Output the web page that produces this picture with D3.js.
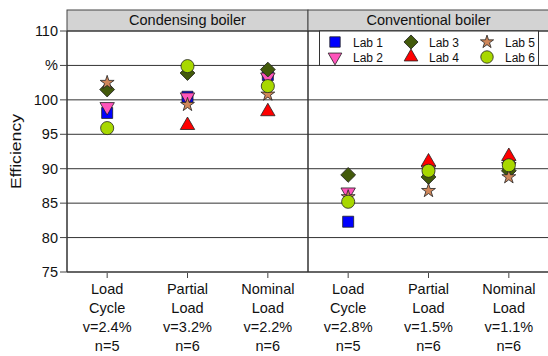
<!DOCTYPE html>
<html>
<head>
<meta charset="utf-8">
<script src="https://cdn.jsdelivr.net/npm/d3@7"></script>
<style>
  body { margin: 0; background: #fff; }
  text { font-family: "Liberation Sans", Arial, sans-serif; fill: #111; }
</style>
</head>
<body>
<div id="chart"></div>
<script>
// Panels and x categories
const panels = ['Condensing boiler', 'Conventional boiler'];
const loads = ['LC', 'PL', 'NL'];
const xLabels = [
  [['Load', 'Cycle', 'v=2.4%', 'n=5'], ['Partial', 'Load', 'v=3.2%', 'n=6'], ['Nominal', 'Load', 'v=2.2%', 'n=6']],
  [['Load', 'Cycle', 'v=2.8%', 'n=5'], ['Partial', 'Load', 'v=1.5%', 'n=6'], ['Nominal', 'Load', 'v=1.1%', 'n=6']]
];
const yTicks = [75, 80, 85, 90, 95, 100, 105, 110];
const yTickLabels = ['75', '80', '85', '90', '95', '100', '%', '110'];

const labs = ['Lab 1', 'Lab 2', 'Lab 3', 'Lab 4', 'Lab 5', 'Lab 6'];

// efficiency values per lab: [LC, PL, NL]
const condensing = [
  [98.1, 100.45, 103.6],
  [99.0, 100.4, 103.3],
  [101.5, 103.9, 104.4],
  [null, 96.3, 98.3],
  [102.5, 99.3, 100.8],
  [95.9, 104.9, 102.0]
];
const conventional = [
  [82.3, 89.7, 90.4],
  [86.6, 89.8, 90.3],
  [89.1, 88.8, 89.7],
  [null, 91.0, 91.8],
  [85.9, 86.8, 88.8],
  [85.2, 89.7, 90.5]
];

const width = 548, height = 356;
const margin = { top: 31, right: -1, bottom: 84, left: 67 };
const stripH = 21;

const svg = d3.select('#chart').append('svg')
  .attr('width', width)
  .attr('height', height);

// x: panels, then loads inside each panel
const xPanel = d3.scaleBand()
  .domain(panels)
  .range([margin.left, width - margin.right]);

const y = d3.scaleLinear()
  .domain([75, 110])
  .range([height - margin.bottom, margin.top]);

const symbols = [
  { type: d3.symbolSquare, size: 121, rotate: 0, fill: '#0000ff' },
  { type: d3.symbolTriangle, size: 90, rotate: 180, fill: '#ff55bb' },
  { type: d3.symbolSquare, size: 110, rotate: 45, fill: '#435a0b' },
  { type: d3.symbolTriangle, size: 90, rotate: 0, fill: '#ff0000' },
  { type: d3.symbolStar, size: 60, rotate: 0, fill: '#d0875a' },
  { type: d3.symbolCircle, size: 135, rotate: 0, fill: '#a8d800' }
];

const data = [condensing, conventional];

panels.forEach((p, pi) => {
  const x0 = xPanel(p);
  const x = d3.scaleBand()
    .domain(loads)
    .range([x0, x0 + xPanel.bandwidth()]);

  const g = svg.append('g');

  // strip
  g.append('rect')
    .attr('x', x0)
    .attr('y', margin.top - stripH)
    .attr('width', xPanel.bandwidth())
    .attr('height', stripH)
    .attr('fill', '#d3d3d3')
    .attr('stroke', '#444');
  g.append('text')
    .attr('x', x0 + xPanel.bandwidth() / 2)
    .attr('y', margin.top - 6)
    .attr('text-anchor', 'middle')
    .style('font-size', '14.5px')
    .text(p);

  // horizontal grid
  g.selectAll('.grid')
    .data(yTicks)
    .enter().append('line')
    .attr('x1', x0)
    .attr('x2', x0 + xPanel.bandwidth())
    .attr('y1', d => y(d))
    .attr('y2', d => y(d))
    .attr('stroke', d => d === 75 ? '#666' : '#333')
    .attr('stroke-width', d => d === 75 ? 2 : 1);

  // panel left border
  g.append('line')
    .attr('x1', x0).attr('x2', x0)
    .attr('y1', y(110)).attr('y2', y(75))
    .attr('stroke', '#333')
    .attr('stroke-width', 1.5);

  // x axis ticks + labels
  const xa = g.append('g')
    .attr('transform', `translate(0, ${y(75)})`);
  xa.selectAll('line')
    .data(loads)
    .enter().append('line')
    .attr('x1', d => x(d) + x.bandwidth() / 2)
    .attr('x2', d => x(d) + x.bandwidth() / 2)
    .attr('y1', 1)
    .attr('y2', 6)
    .attr('stroke', '#444');
  xa.selectAll('text')
    .data(loads)
    .enter().append('text')
    .attr('text-anchor', 'middle')
    .style('font-size', '14.5px')
    .each(function (d, i) {
      d3.select(this).selectAll('tspan')
        .data(xLabels[pi][i])
        .enter().append('tspan')
        .attr('x', x(d) + x.bandwidth() / 2)
        .attr('y', (t, k) => 21.5 + k * 19)
        .text(t => t);
    });

  // points, lab by lab
  data[pi].forEach((vals, li) => {
    const s = symbols[li];
    const sym = d3.symbol().type(s.type).size(s.size);
    g.selectAll('.pt' + li)
      .data(vals.map((v, i) => ({ load: loads[i], v })).filter(d => d.v !== null))
      .enter().append('path')
      .attr('d', sym)
      .attr('transform', d => `translate(${x(d.load) + x.bandwidth() / 2},${y(d.v)}) rotate(${s.rotate})`)
      .attr('fill', s.fill)
      .attr('stroke', '#222')
      .attr('stroke-width', 0.8);
  });
});

// y axis ticks + labels
const ya = svg.append('g');
ya.selectAll('line')
  .data(yTicks)
  .enter().append('line')
  .attr('x1', margin.left - 7)
  .attr('x2', margin.left)
  .attr('y1', d => y(d))
  .attr('y2', d => y(d))
  .attr('stroke', '#444');
ya.selectAll('text')
  .data(yTicks)
  .enter().append('text')
  .attr('x', margin.left - 9)
  .attr('y', d => y(d) + 5)
  .attr('text-anchor', 'end')
  .style('font-size', '14.5px')
  .text((d, i) => yTickLabels[i]);

svg.append('text')
  .attr('transform', `translate(21, ${(y(75) + y(110)) / 2}) rotate(-90)`)
  .attr('text-anchor', 'middle')
  .attr('textLength', 75)
  .attr('lengthAdjust', 'spacingAndGlyphs')
  .style('font-size', '14px')
  .text('Efficiency');

// legend in right panel
const lg = svg.append('g');
lg.append('rect')
  .attr('x', 319.5)
  .attr('y', margin.top)
  .attr('width', 219)
  .attr('height', y(105) - margin.top)
  .attr('fill', '#fff')
  .attr('stroke', '#333');
labs.forEach((lab, li) => {
  const col = Math.floor(li / 2), row = li % 2;
  const lx = 335 + col * 76, ly = 42 + row * 15;
  const s = symbols[li];
  lg.append('path')
    .attr('d', d3.symbol().type(s.type).size(s.size * 0.9))
    .attr('transform', `translate(${lx},${ly}) rotate(${s.rotate})`)
    .attr('fill', s.fill)
    .attr('stroke', '#222')
    .attr('stroke-width', 0.8);
  lg.append('text')
    .attr('x', lx + 18)
    .attr('y', ly + 4.5)
    .style('font-size', '12px')
    .text(lab);
});
</script>
</body>
</html>
